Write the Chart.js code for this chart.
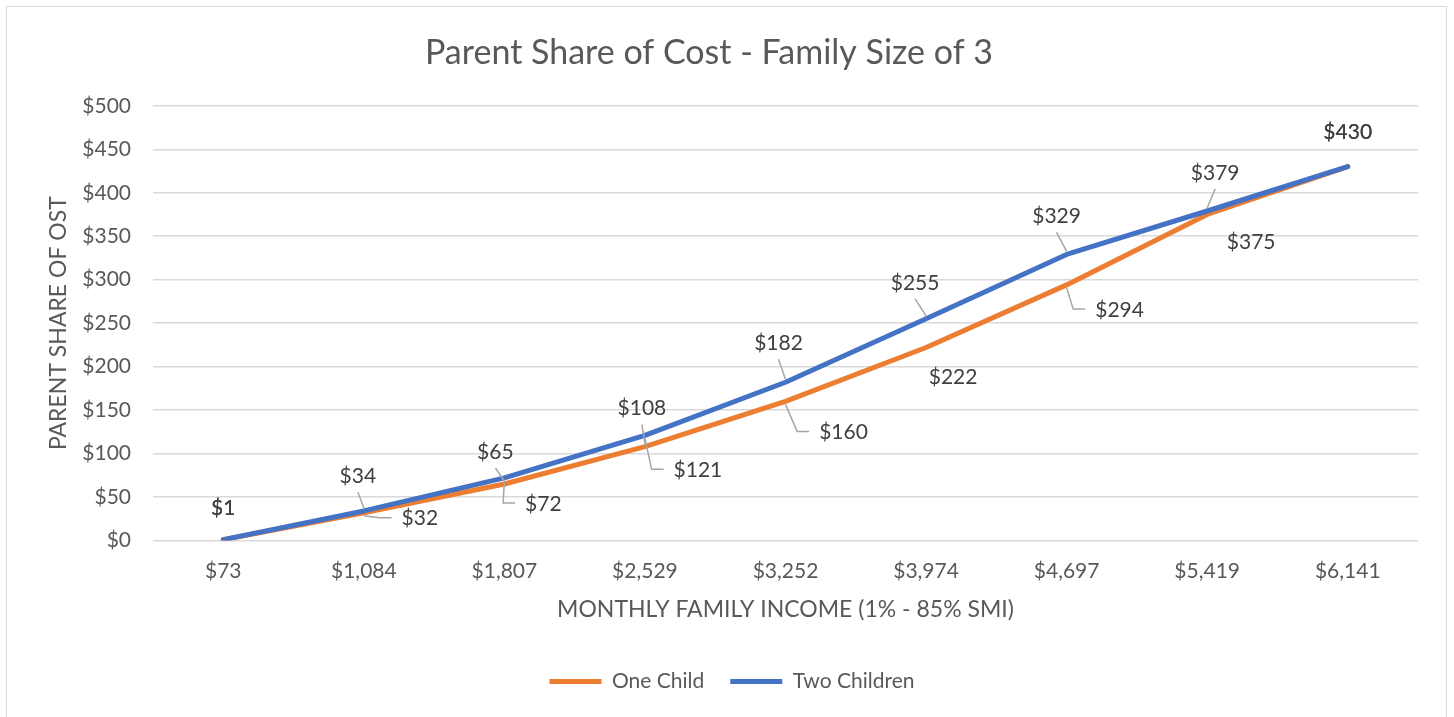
<!DOCTYPE html>
<html>
<head>
<meta charset="utf-8">
<script src="https://cdn.jsdelivr.net/npm/chart.js@4.4.1/dist/chart.umd.min.js"></script>
<style>
  html, body { margin: 0; padding: 0; background: #fff; }
  #wrap { position: relative; width: 1454px; height: 717px; overflow: hidden; }
  #frame { position: absolute; left: 6px; top: 6px; width: 1439px; height: 800px; border: 1.5px solid #d9d9d9; }
  #chart-box { position: absolute; left: 0; top: 0; width: 1454px; height: 717px; }
</style>
</head>
<body>
<div id="wrap">
  <div id="frame"></div>
  <div id="chart-box"><canvas id="myChart"></canvas></div>
</div>
<script>
// data
const incomeLabels = ["$73", "$1,084", "$1,807", "$2,529", "$3,252", "$3,974", "$4,697", "$5,419", "$6,141"];
const oneChild = [1, 32, 65, 108, 160, 222, 294, 375, 430];
const twoChildren = [1, 34, 72, 121, 182, 255, 329, 379, 430];
const yMin = 0;
const yMax = 500;
const yStep = 50;

// where each value label sits relative to its point: [dx, dy, leader]
const oneChildSpots = [[0, -31, "none"], [56, 6, "elbow"], [-9, -32, "up"], [-3, -38, "up"], [58, 31, "elbow"], [27, 30, "none"], [53, 25, "elbow"], [44, 28, "none"], [0, -34, "none"]];
const twoChildrenSpots = [[0, -31, "none"], [-6, -35, "up"], [39, 26, "elbow"], [53, 35, "elbow"], [-7, -39, "up"], [-11, -36, "up"], [-10, -38, "up"], [8, -38, "up"], [0, -34, "none"]];
const labelSpots = [oneChildSpots, twoChildrenSpots];

const fontFamily = "Lato, 'Open Sans', sans-serif";
const axisColor = "#595959";

const valueLabels = {
  id: "valueLabels",
  afterLayout(chart) {
    // legend is centred on the whole frame in the original, not on the plot
    chart.legend.left += 23;
    chart.legend.right += 23;
  },
  afterDatasetsDraw(chart) {
    const ctx = chart.ctx;
    ctx.save();
    ctx.font = "21px " + fontFamily;
    ctx.textAlign = "center";
    ctx.textBaseline = "middle";
    chart.data.datasets.forEach((ds, d) => {
      const meta = chart.getDatasetMeta(d);
      meta.data.forEach((pt, i) => {
        const [dx, dy, kind] = labelSpots[d][i];
        const text = "$" + ds.data[i];
        const cx = pt.x + dx;
        const cy = pt.y + dy;
        const w = ctx.measureText(text).width;
        ctx.strokeStyle = "#a6a6a6";
        ctx.lineWidth = 1.5;
        if (kind === "up") {
          ctx.beginPath();
          ctx.moveTo(cx, cy + 16);
          ctx.lineTo(pt.x, pt.y - 3);
          ctx.stroke();
        } else if (kind === "elbow") {
          const left = cx - w / 2;
          ctx.beginPath();
          ctx.moveTo(pt.x, pt.y + 3);
          ctx.lineTo(left - 22, cy - 1);
          ctx.lineTo(left - 10, cy - 1);
          ctx.stroke();
        }
        ctx.fillStyle = "#404040";
        ctx.fillText(text, cx, cy);
      });
    });
    ctx.restore();
  }
};

const ctx = document.getElementById("myChart");

const newChart = new Chart(ctx, {
  type: "line",
  data: {
    labels: incomeLabels,
    datasets: [
      {
        label: "One Child",
        data: oneChild,
        borderColor: "#ED7D31",
        backgroundColor: "#ED7D31",
        borderWidth: 5,
        borderCapStyle: "round",
        borderJoinStyle: "round",
        pointRadius: 0,
        tension: 0,
        order: 1,
      },
      {
        label: "Two Children",
        data: twoChildren,
        borderColor: "#4472C4",
        backgroundColor: "#4472C4",
        borderWidth: 5,
        borderCapStyle: "round",
        borderJoinStyle: "round",
        pointRadius: 0,
        tension: 0,
        order: 0,
      },
    ],
  },
  options: {
    responsive: true,
    maintainAspectRatio: false,
    animation: false,
    layout: { padding: { left: 0, right: 36, top: 0, bottom: 15 } },
    plugins: {
      title: {
        display: true,
        text: "Parent Share of Cost - Family Size of 3",
        color: axisColor,
        font: { family: fontFamily, size: 34, weight: "normal" },
        padding: { top: 33, bottom: 32 },
      },
      legend: {
        position: "bottom",
        labels: {
          usePointStyle: true,
          pointStyle: "line",
          pointStyleWidth: 52,
          color: axisColor,
          font: { family: fontFamily, size: 21 },
          padding: 26,
          sort: (a, b) => a.datasetIndex - b.datasetIndex,
        },
      },
      tooltip: { enabled: false },
    },
    scales: {
      x: {
        offset: true,
        grid: { display: false },
        border: { display: false },
        ticks: {
          color: axisColor,
          font: { family: fontFamily, size: 21 },
          padding: 10,
          maxRotation: 0,
        },
        title: {
          display: true,
          text: "MONTHLY FAMILY INCOME (1% - 85% SMI)",
          color: axisColor,
          font: { family: fontFamily, size: 23 },
          padding: { top: 0, bottom: 22 },
        },
        afterFit(scale) {
          scale.height = 104.5;
        },
      },
      y: {
        min: yMin,
        max: yMax,
        ticks: {
          stepSize: yStep,
          callback: (v) => "$" + v,
          color: axisColor,
          font: { family: fontFamily, size: 21 },
          padding: 22,
        },
        grid: { color: "#d9d9d9", lineWidth: 1.5, drawTicks: false },
        border: { display: false },
        title: {
          display: true,
          text: "PARENT SHARE OF OST",
          color: axisColor,
          font: { family: fontFamily, size: 23 },
          padding: { top: 45, bottom: 0 },
        },
        afterFit(scale) {
          scale.width = 153;
        },
      },
    },
  },
  plugins: [valueLabels],
});
</script>
</body>
</html>
